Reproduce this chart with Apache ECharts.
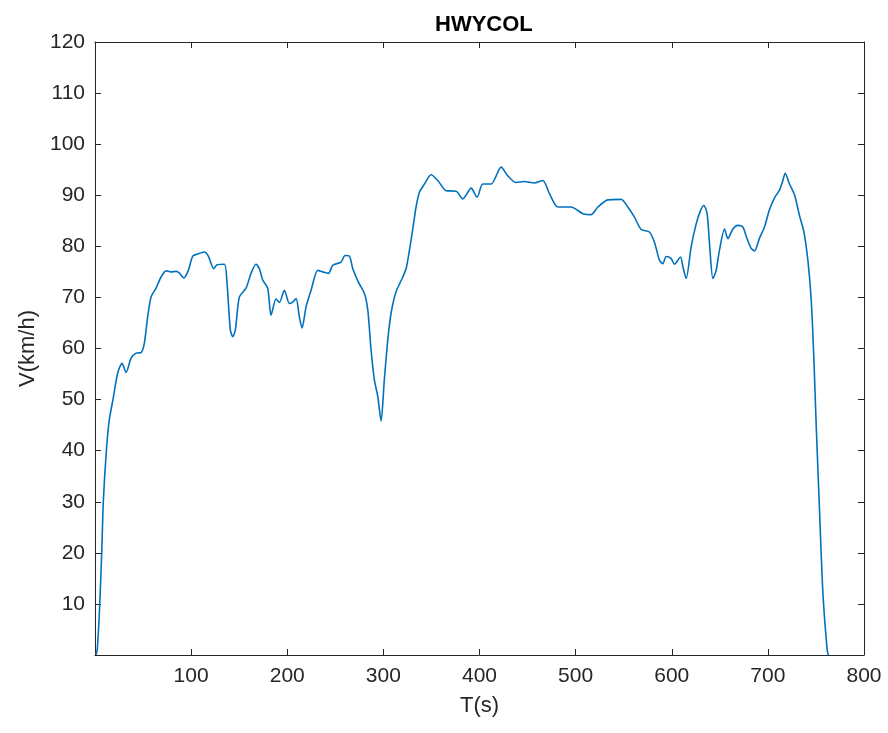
<!DOCTYPE html>
<html>
<head>
<meta charset="utf-8">
<script src="https://cdn.jsdelivr.net/npm/echarts@6/dist/echarts.min.js"></script>
<style>
html,body{margin:0;padding:0;background:#fff;}
#c{width:888px;height:733px;}
</style>
</head>
<body>
<div id="c"></div>
<script>
var titleText = 'HWYCOL';
var xName = 'T(s)';
var yName = 'V(km/h)';
var T = [1,2.4,4.9,7,8.7,11.8,14.9,18.7,23.6,28.1,32.3,37.5,42.7,47.9,51.3,54.8,58.3,63.5,68.7,73.9,79.1,84.3,87.7,92.3,97.1,101.7,106.9,113.7,117.9,123.5,127,134.6,137.4,140.8,143.3,146,150.2,157.1,162.3,167.5,171,174.5,179.7,183.1,188.3,191.8,197,202.2,205.7,209.2,212.6,215.4,219.6,224.8,231.7,236.9,242.8,247.3,256,260.1,264.6,268.2,274,280.2,283.8,287.2,290.6,294.2,297.6,301,304.6,308,313.2,320.2,323.6,327.1,330.6,334,337.5,342.7,349.6,356.6,365.2,375.7,382.6,391.3,397.5,403.4,412.1,422.5,429.4,438.1,446.7,457.1,465.9,472.8,481.5,495.3,507.5,516.1,523.1,533.5,547.3,554.3,561.2,568.2,576.8,582,587.2,590.7,594.2,599.4,602.8,609.1,611.6,615,620.2,625.4,629.9,633.4,636.8,639.3,642.8,646.2,649.6,654.9,658.4,663.6,668.8,674,677.4,682.6,686.1,691.3,696.5,701.7,706.9,712.1,715.6,718,722.5,727.7,732.9,737.5,741.6,745.1,747.9,750.3,753.7,757.2,761.7,763];
var V = [0,1.2,9.7,20.2,30.2,39.9,46.1,50,55.2,57.1,55.3,58.1,59.1,59.2,61,66.2,70.1,71.8,74,75.2,75,75.1,74.8,73.8,75.3,78.1,78.5,78.9,78.1,75.6,76.4,76.5,72.7,63.6,62.3,63.6,70.1,71.8,74.7,76.5,75.6,73.4,71.8,66.5,69.7,69,71.4,68.8,69.1,69.8,66.2,64,68.2,71.4,75.3,75,74.7,76.3,76.9,78.2,78.1,75.6,73,70.8,67.5,59.7,53.9,50.6,45.8,53.9,61.7,66.9,71.1,74,75.6,79.2,83.4,87.7,90.6,92.2,94,92.9,90.9,90.8,89.3,91.4,89.6,92.2,92.2,95.5,93.8,92.5,92.7,92.4,92.9,90.3,87.7,87.7,86.4,86.2,87.7,89.1,89.2,87.7,85.7,83.3,82.8,80.8,77.3,76.6,78,77.6,76.5,77.9,76,73.7,79.9,84.4,87,88,86.4,80.5,73.7,75.3,79.2,83.4,81.5,83.4,84.1,83.8,82,79.6,79.1,81.6,83.8,87.2,89.5,91,92.9,94.3,92.2,90.1,86,82.8,77.3,69.5,57.8,44.8,28.5,12.3,0.9,0];
var xTicks = [100,200,300,400,500,600,700,800];
var yTicks = [10,20,30,40,50,60,70,80,90,100,110,120];

var data = T.map(function(t,i){return [t, V[i]];});
var axisColor = '#262626';
var font = 'Arial, "Liberation Sans", Helvetica, sans-serif';

function xAx(pos, labels){
  return {
    type:'value', position:pos, min:0, max:800, interval:100,
    axisLine:{show:true, onZero:false, lineStyle:{color:axisColor, width:1}},
    axisTick:{show:true, inside:true, length:6, lineStyle:{color:axisColor}},
    axisLabel:{show:labels, fontSize:21, color:axisColor, fontFamily:font, margin:11,
      formatter:function(v){return xTicks.indexOf(Math.round(v))>=0 ? String(Math.round(v)) : '';}},
    splitLine:{show:false},
    name: labels ? xName : '', nameLocation:'middle', nameGap:40,
    nameTextStyle:{fontSize:22, color:axisColor, fontFamily:font}
  };
}
function yAx(pos, labels){
  return {
    type:'value', position:pos, min:0, max:120, interval:10,
    axisLine:{show:true, onZero:false, lineStyle:{color:axisColor, width:1}},
    axisTick:{show:true, inside:true, length:6, lineStyle:{color:axisColor}},
    axisLabel:{show:labels, fontSize:21, color:axisColor, fontFamily:font, margin:10,
      formatter:function(v){return yTicks.indexOf(Math.round(v))>=0 ? String(Math.round(v)) : '';}},
    splitLine:{show:false},
    name: labels ? yName : '', nameLocation:'middle', nameGap:56,
    nameTextStyle:{fontSize:22, color:axisColor, fontFamily:font}
  };
}

var chart = echarts.init(document.getElementById('c'), null, {renderer:'canvas'});
chart.setOption({
  animation:false,
  backgroundColor:'#ffffff',
  title:{text:titleText, left:430, top:9,
    textStyle:{fontSize:22, fontWeight:'bold', color:'#000', fontFamily:font}},
  grid:{left:95, right:24, top:42, bottom:78, containLabel:false},
  xAxis:[xAx('bottom', true), xAx('top', false)],
  yAxis:[yAx('left', true), yAx('right', false)],
  series:[{
    type:'line', data:data, xAxisIndex:0, yAxisIndex:0,
    showSymbol:false, symbol:'none', smooth:0.25, clip:true,
    lineStyle:{color:'#0072BD', width:1.6}
  }]
});
</script>
</body>
</html>
